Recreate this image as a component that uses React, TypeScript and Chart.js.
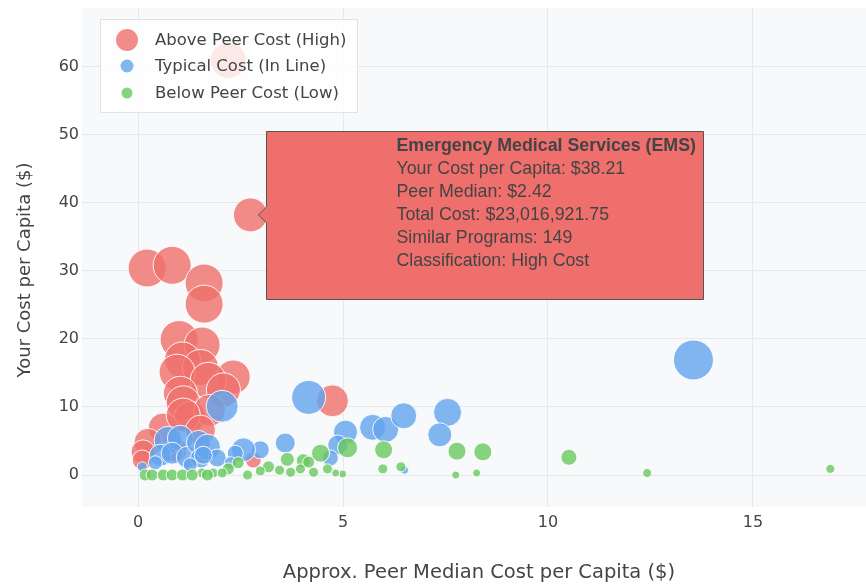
import React, { useEffect, useRef } from "react";
import { Chart, registerables } from "chart.js";

Chart.register(...registerables);

const SERIES_NAMES = ["Above Peer Cost (High)", "Typical Cost (In Line)", "Below Peer Cost (Low)"];
const SERIES_COLORS = ["239,111,108", "97,164,238", "104,200,96"];

// High cost programs
const HIGH_X = [2.2, 2.74, 0.22, 0.83, 1.61, 1.61, 1.0, 1.56, 1.08, 1.52, 0.95, 2.32, 1.71, 2.08, 1.03, 1.1, 1.27, 1.74, 0.61, 0.24, 0.12, 0.1, 4.74, 1.1, 1.52, 2.81, 0.9];
const HIGH_Y = [60.9, 38.21, 30.4, 30.8, 28.2, 25.1, 19.9, 19.1, 16.9, 15.8, 15.1, 14.4, 13.9, 12.5, 12.0, 10.6, 8.5, 9.5, 6.9, 4.8, 3.4, 2.2, 10.9, 8.8, 6.6, 2.2, 3.7];
const HIGH_R = [18, 17, 19, 19, 19, 19, 19, 18, 18, 18, 18, 17, 18, 17, 17, 17, 16, 16, 15, 14, 12, 10, 16, 17, 15, 8, 12];

// Typical cost programs
const MID_X = [13.55, 4.16, 2.05, 5.06, 5.72, 6.04, 6.48, 7.55, 7.36, 4.87, 4.69, 3.59, 2.98, 2.57, 0.73, 1.03, 0.54, 0.83, 1.2, 1.47, 1.52, 1.69, 1.93, 1.59, 2.37, 0.1, 6.5, 0.42, 1.27, 2.25];
const MID_Y = [16.9, 11.4, 10.1, 6.3, 7.0, 6.7, 8.7, 9.2, 5.9, 4.4, 2.5, 4.7, 3.7, 3.7, 5.1, 5.4, 2.9, 3.2, 2.6, 4.8, 2.5, 4.1, 2.5, 2.9, 3.2, 1.2, 0.7, 1.8, 1.5, 1.8];
const MID_R = [20, 17, 16, 12, 13, 13, 13, 14, 12, 10, 8, 10, 9, 12, 14, 13, 11, 11, 11, 12, 10, 13, 9, 9, 8, 5, 4, 7, 7, 6];

// Low cost programs
const LOW_X = [16.89, 12.42, 10.51, 8.41, 7.78, 7.75, 8.26, 5.99, 5.97, 6.41, 5.11, 4.45, 4.99, 4.82, 4.62, 4.28, 4.03, 3.96, 3.64, 3.72, 3.45, 3.18, 2.98, 2.44, 2.2, 1.83, 1.56, 2.05, 2.67, 0.17, 0.34, 0.61, 0.83, 1.08, 1.32, 1.69, 4.16];
const LOW_Y = [0.9, 0.3, 2.6, 3.4, 3.5, 0.0, 0.3, 3.7, 0.9, 1.2, 4.0, 3.2, 0.15, 0.3, 0.9, 0.4, 2.1, 0.9, 2.3, 0.4, 0.7, 1.2, 0.6, 1.8, 0.9, 0.3, 0.3, 0.3, 0.0, 0.0, 0.0, 0.0, 0.0, 0.0, 0.0, 0.0, 1.9];
const LOW_R = [4.5, 4.5, 8, 9, 9, 4, 4, 9, 5, 5, 10, 9, 4, 4, 5, 5, 7, 5, 7, 5, 5, 6, 5, 6, 6, 5, 5, 5, 5, 6, 6, 6, 6, 6, 6, 6, 6];

const X_TICKS = [0, 5, 10, 15];
const Y_TICKS = [0, 10, 20, 30, 40, 50, 60];
const X_RANGE = [-1.37, 17.76];
const Y_RANGE = [-4.7, 68.6];

const X_TITLE = "Approx. Peer Median Cost per Capita ($)";
const Y_TITLE = "Your Cost per Capita ($)";

const HOVER_LINES = [
  "Emergency Medical Services (EMS)",
  "Your Cost per Capita: $38.21",
  "Peer Median: $2.42",
  "Total Cost: $23,016,921.75",
  "Similar Programs: 149",
  "Classification: High Cost",
];
const HOVER_DATASET = 0;
const HOVER_INDEX = 1;

const LEGEND_MARKER_R = [11, 6.5, 5.5];

const AXIS_FONT = "'DejaVu Sans', Verdana, sans-serif";
const HOVER_FONT = "'Liberation Sans', Arial, sans-serif";
const TEXT_COLOR = "#444444";

function toPoints(xs: number[], ys: number[], rs: number[]) {
  return xs.map((x, i) => ({ x, y: ys[i], r: rs[i] }));
}

const plotBgPlugin = {
  id: "plotBg",
  beforeDraw(chart: any) {
    const { ctx, chartArea } = chart;
    ctx.save();
    ctx.fillStyle = "#f8f9fb";
    ctx.fillRect(chartArea.left, chartArea.top, chartArea.right - chartArea.left, chartArea.bottom - chartArea.top);
    ctx.restore();
  },
};

const titlesPlugin = {
  id: "axisTitles",
  afterDraw(chart: any) {
    const { ctx } = chart;
    ctx.save();
    ctx.fillStyle = TEXT_COLOR;
    ctx.textAlign = "center";
    ctx.textBaseline = "middle";
    ctx.font = `19.5px ${AXIS_FONT}`;
    ctx.fillText(X_TITLE, 479, 573);
    ctx.translate(25, 270);
    ctx.rotate(-Math.PI / 2);
    ctx.font = `18px ${AXIS_FONT}`;
    ctx.fillText(Y_TITLE, 0, 0);
    ctx.restore();
  },
};

const overlayPlugin = {
  id: "overlay",
  afterDatasetsDraw(chart: any) {
    const { ctx } = chart;
    // Legend
    ctx.save();
    ctx.fillStyle = "rgba(255,255,255,0.8)";
    ctx.fillRect(100.5, 19.5, 257, 93);
    ctx.strokeStyle = "#e2e2e2";
    ctx.lineWidth = 1;
    ctx.strokeRect(100.5, 19.5, 257, 93);
    const rows = [40, 66, 93];
    SERIES_NAMES.forEach((name, i) => {
      ctx.beginPath();
      ctx.arc(127, rows[i], LEGEND_MARKER_R[i], 0, Math.PI * 2);
      ctx.fillStyle = `rgba(${SERIES_COLORS[i]},0.8)`;
      ctx.fill();
      ctx.fillStyle = TEXT_COLOR;
      ctx.font = `16.5px ${AXIS_FONT}`;
      ctx.textBaseline = "middle";
      ctx.textAlign = "left";
      ctx.fillText(name, 155, rows[i] + 1);
    });
    ctx.restore();

    // Hover label
    const el = chart.getDatasetMeta(HOVER_DATASET).data[HOVER_INDEX];
    if (!el) return;
    const px = el.x;
    const py = el.y;
    const left = Math.round(px + 16) + 0.5;
    const top = Math.round(py - 84) + 0.5;
    const w = 437;
    const h = 168;
    ctx.save();
    ctx.beginPath();
    ctx.moveTo(left, top);
    ctx.lineTo(left + w, top);
    ctx.lineTo(left + w, top + h);
    ctx.lineTo(left, top + h);
    ctx.lineTo(left, py + 8);
    ctx.lineTo(px + 8, py);
    ctx.lineTo(left, py - 8);
    ctx.closePath();
    ctx.fillStyle = `rgb(${SERIES_COLORS[0]})`;
    ctx.fill();
    ctx.strokeStyle = "#555555";
    ctx.lineWidth = 1;
    ctx.stroke();
    ctx.fillStyle = TEXT_COLOR;
    ctx.textBaseline = "middle";
    ctx.textAlign = "left";
    HOVER_LINES.forEach((line, i) => {
      ctx.font = `${i === 0 ? "bold " : ""}17.8px ${HOVER_FONT}`;
      ctx.fillText(line, left + 130, top + 15 + i * 23);
    });
    ctx.restore();
  },
};

export default function App() {
  const ref = useRef<HTMLCanvasElement | null>(null);

  useEffect(() => {
    if (!ref.current) return;
    const mk = (i: number, data: any[], order: number) => ({
      label: SERIES_NAMES[i],
      data,
      order,
      backgroundColor: `rgba(${SERIES_COLORS[i]},0.8)`,
      borderColor: "rgba(255,255,255,0.9)",
      borderWidth: 1,
    });
    const chart = new Chart(ref.current, {
      type: "bubble",
      data: {
        datasets: [
          mk(0, toPoints(HIGH_X, HIGH_Y, HIGH_R), 3),
          mk(1, toPoints(MID_X, MID_Y, MID_R), 2),
          mk(2, toPoints(LOW_X, LOW_Y, LOW_R), 1),
        ],
      },
      options: {
        animation: false,
        responsive: false,
        devicePixelRatio: 1,
        events: [],
        layout: { autoPadding: false, padding: { top: 8, right: 0, left: 0, bottom: 0 } },
        plugins: { legend: { display: false }, tooltip: { enabled: false } },
        scales: {
          x: {
            type: "linear",
            min: X_RANGE[0],
            max: X_RANGE[1],
            afterBuildTicks: (s: any) => {
              s.ticks = X_TICKS.map((v) => ({ value: v }));
            },
            afterFit: (s: any) => {
              s.height = 78;
              s.paddingLeft = 0;
              s.paddingRight = 0;
            },
            grid: { color: "#e6e8ee", drawTicks: false, lineWidth: 1 },
            border: { display: false },
            ticks: {
              padding: 6,
              color: TEXT_COLOR,
              font: { family: AXIS_FONT, size: 16 },
              callback: (v: any) => String(v),
            },
            title: { display: false },
          },
          y: {
            type: "linear",
            min: Y_RANGE[0],
            max: Y_RANGE[1],
            afterBuildTicks: (s: any) => {
              s.ticks = Y_TICKS.map((v) => ({ value: v }));
            },
            afterFit: (s: any) => {
              s.width = 82;
              s.paddingTop = 0;
              s.paddingBottom = 0;
            },
            grid: { color: "#e6e8ee", drawTicks: false, lineWidth: 1 },
            border: { display: false },
            ticks: {
              padding: 3,
              color: TEXT_COLOR,
              font: { family: AXIS_FONT, size: 16 },
              callback: (v: any) => String(v),
            },
            title: { display: false },
          },
        },
      },
      plugins: [plotBgPlugin, overlayPlugin, titlesPlugin],
    } as any);
    return () => chart.destroy();
  }, []);

  return (
    <div style={{ position: "fixed", left: 0, top: 0, width: 866, height: 585, background: "#ffffff" }}>
      <canvas ref={ref} width={866} height={585} style={{ display: "block" }} />
    </div>
  );
}
